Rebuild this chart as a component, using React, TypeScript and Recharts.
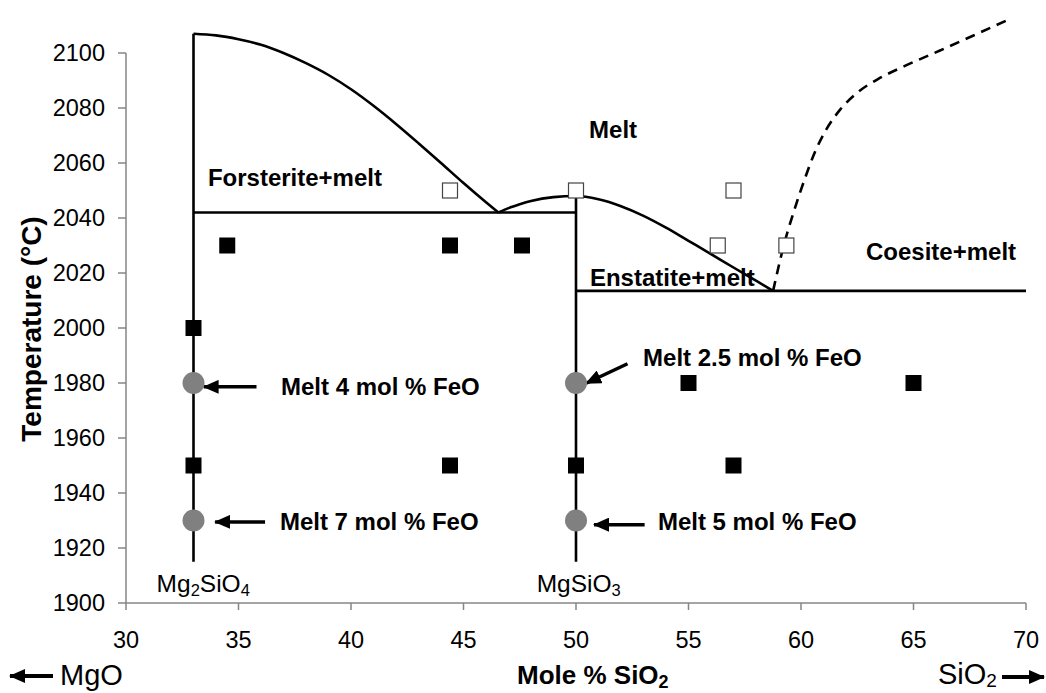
import React from 'react';
import {
  ComposedChart,
  Line,
  Scatter,
  XAxis,
  YAxis,
  ReferenceLine,
  ReferenceDot,
} from 'recharts';

// ---- axis ticks ----
const xTicks = [30, 35, 40, 45, 50, 55, 60, 65, 70];
const yTicks = [1900, 1920, 1940, 1960, 1980, 2000, 2020, 2040, 2060, 2080, 2100];

// ---- phase boundaries (mole % SiO2, temperature °C) ----
const forsteriteJoin = [
  { x: 33, y: 1915 },
  { x: 33, y: 2107 },
];
const forsteriteLiquidus = [
  { x: 33, y: 2107 },
  { x: 34, y: 2106.4 },
  { x: 35, y: 2105 },
  { x: 36, y: 2103 },
  { x: 37, y: 2100 },
  { x: 38, y: 2096.3 },
  { x: 39, y: 2092 },
  { x: 40, y: 2086.8 },
  { x: 41, y: 2080.8 },
  { x: 42, y: 2074.2 },
  { x: 43, y: 2067.2 },
  { x: 44, y: 2060 },
  { x: 45, y: 2052.7 },
  { x: 46, y: 2045.7 },
  { x: 46.55, y: 2042 },
];
const forsteriteSolidus = [
  { x: 33, y: 2042 },
  { x: 50, y: 2042 },
];
const enstatiteLiquidus = [
  { x: 46.55, y: 2042 },
  { x: 47, y: 2043.6 },
  { x: 47.5, y: 2045 },
  { x: 48, y: 2046.2 },
  { x: 49, y: 2047.6 },
  { x: 50, y: 2048 },
  { x: 51, y: 2046.8 },
  { x: 52, y: 2044.3 },
  { x: 53, y: 2040.8 },
  { x: 54, y: 2036.5 },
  { x: 55, y: 2031.7 },
  { x: 56, y: 2026.9 },
  { x: 57, y: 2022 },
  { x: 58, y: 2017.2 },
  { x: 58.76, y: 2013.5 },
];
const enstatiteJoin = [
  { x: 50, y: 1915 },
  { x: 50, y: 2048 },
];
const coesiteSolidus = [
  { x: 50, y: 2013.5 },
  { x: 70, y: 2013.5 },
];
const coesiteLiquidus = [
  { x: 58.76, y: 2013.5 },
  { x: 59.24, y: 2030.2 },
  { x: 59.73, y: 2043.6 },
  { x: 60.18, y: 2054.5 },
  { x: 60.62, y: 2064 },
  { x: 61.11, y: 2072 },
  { x: 61.73, y: 2079.3 },
  { x: 62.49, y: 2085.5 },
  { x: 63.42, y: 2090.5 },
  { x: 64.62, y: 2095.3 },
  { x: 66.18, y: 2100.9 },
  { x: 67.73, y: 2106.6 },
  { x: 69.29, y: 2112.4 },
];

// ---- experiments ----
const crystalRuns = [
  { x: 33, y: 2000 },
  { x: 33, y: 1950 },
  { x: 34.5, y: 2030 },
  { x: 44.4, y: 2030 },
  { x: 47.6, y: 2030 },
  { x: 44.4, y: 1950 },
  { x: 50, y: 1950 },
  { x: 55, y: 1980 },
  { x: 57, y: 1950 },
  { x: 65, y: 1980 },
];
const meltRuns = [
  { x: 44.4, y: 2050 },
  { x: 50, y: 2050 },
  { x: 57, y: 2050 },
  { x: 56.3, y: 2030 },
  { x: 59.35, y: 2030 },
];
const feoMeltRuns = [
  { x: 33, y: 1980 },
  { x: 33, y: 1930 },
  { x: 50, y: 1980 },
  { x: 50, y: 1930 },
];

// ---- annotation text and arrows ----
const fieldLabels = [
  { x: 33.64, y: 2051.6, text: 'Forsterite+melt' },
  { x: 50.58, y: 2069.1, text: 'Melt' },
  { x: 62.89, y: 2024.7, text: 'Coesite+melt' },
  { x: 50.62, y: 2015.3, text: 'Enstatite+melt' },
  { x: 52.98, y: 1986.2, text: 'Melt 2.5 mol % FeO' },
  { x: 36.89, y: 1975.6, text: 'Melt 4 mol % FeO' },
  { x: 36.84, y: 1926.5, text: 'Melt 7 mol % FeO' },
  { x: 53.64, y: 1926.5, text: 'Melt 5 mol % FeO' },
];
const arrows = [
  { x1: 35.8, y1: 1978.6, x2: 33.45, y2: 1978.6 },
  { x1: 36.18, y1: 1929.5, x2: 33.96, y2: 1929.5 },
  { x1: 52.29, y1: 1987, x2: 50.45, y2: 1979.9 },
  { x1: 53.05, y1: 1928.5, x2: 50.8, y2: 1928.5 },
];
const compounds = [
  { x: 31.36, y: 1904, base: 'Mg', sub1: '2', mid: 'SiO', sub2: '4' },
  { x: 48.25, y: 1904, base: 'Mg', sub1: '', mid: 'SiO', sub2: '3' },
];

const FONT = '"Liberation Sans", Arial, Helvetica, sans-serif';
const AXIS_GREY = '#868686';

const FilledSquare = (props: any) => (
  <rect x={props.cx - 8} y={props.cy - 8} width={16} height={16} fill="#000" />
);
const OpenSquare = (props: any) => (
  <rect
    x={props.cx - 7.5}
    y={props.cy - 7.5}
    width={15}
    height={15}
    fill="#fff"
    stroke="#444"
    strokeWidth={1.2}
  />
);
const GreyDot = (props: any) => <circle cx={props.cx} cy={props.cy} r={11} fill="#808080" />;

const boldText = (value: string) => (props: any) => {
  const vb = props.viewBox || {};
  return (
    <text
      x={vb.x}
      y={vb.y}
      fontFamily={FONT}
      fontWeight="bold"
      fontSize={24}
      fill="#000"
      textAnchor="start"
    >
      {value}
    </text>
  );
};

const compoundText = (c: (typeof compounds)[number]) => (props: any) => {
  const vb = props.viewBox || {};
  return (
    <text x={vb.x} y={vb.y} fontFamily={FONT} fontSize={24.5} fill="#000" textAnchor="start">
      <tspan>{c.base}</tspan>
      {c.sub1 ? (
        <tspan fontSize={16.5} dy={4}>
          {c.sub1}
        </tspan>
      ) : null}
      <tspan dy={c.sub1 ? -4 : 0}>{c.mid}</tspan>
      <tspan fontSize={16.5} dy={4}>
        {c.sub2}
      </tspan>
    </text>
  );
};

const XAxisLabel = (props: any) => {
  const vb = props.viewBox || { x: 126, y: 603, width: 900 };
  const left = vb.x;
  const top = vb.y;
  const right = vb.x + vb.width;
  return (
    <g>
      <text x={left + 391} y={top + 81} fontFamily={FONT} fontWeight="bold" fontSize={26} fill="#000">
        <tspan>Mole % SiO</tspan>
        <tspan fontSize={18} dy={4}>
          2
        </tspan>
      </text>
      <line
        x1={left - 73}
        y1={top + 73}
        x2={left - 116}
        y2={top + 73}
        stroke="#000"
        strokeWidth={4}
        markerEnd="url(#arrowHead)"
      />
      <text x={left - 66} y={top + 82} fontFamily={FONT} fontSize={29} fill="#000">
        MgO
      </text>
      <text x={right - 88} y={top + 81} fontFamily={FONT} fontSize={29} fill="#000">
        <tspan>SiO</tspan>
        <tspan fontSize={19} dy={3}>
          2
        </tspan>
      </text>
      <line
        x1={right - 24}
        y1={top + 74}
        x2={right + 18}
        y2={top + 74}
        stroke="#000"
        strokeWidth={4}
        markerEnd="url(#arrowHead)"
      />
    </g>
  );
};

const YAxisLabel = () => {
  const cx = 31;
  const cy = 329;
  return (
    <text
      x={cx}
      y={cy}
      transform={`rotate(-90 ${cx} ${cy})`}
      textAnchor="middle"
      dominantBaseline="central"
      fontFamily={FONT}
      fontWeight="bold"
      fontSize={28}
      fill="#000"
    >
      Temperature (°C)
    </text>
  );
};

export default function App() {
  return (
    <div style={{ position: 'absolute', left: 0, top: 0, width: 1046, height: 693, background: '#fff' }}>
      <svg width={0} height={0} style={{ position: 'absolute' }}>
        <defs>
          <marker
            id="arrowHead"
            markerUnits="userSpaceOnUse"
            markerWidth={16}
            markerHeight={14}
            refX={15}
            refY={7}
            orient="auto"
          >
            <path d="M0,0 L16,7 L0,14 Z" fill="#000" />
          </marker>
        </defs>
      </svg>
      <ComposedChart
        width={1046}
        height={693}
        margin={{ top: 9, right: 20, bottom: 0, left: 0 }}
      >
        <XAxis
          type="number"
          dataKey="x"
          domain={[30, 70]}
          ticks={xTicks}
          interval={0}
          height={90}
          tickSize={7}
          tickMargin={21}
          axisLine={{ stroke: AXIS_GREY, strokeWidth: 1.5 }}
          tickLine={{ stroke: AXIS_GREY, strokeWidth: 1.5 }}
          tick={{ fontSize: 23.5, fill: '#000', fontFamily: FONT }}
          label={{ content: XAxisLabel }}
        />
        <YAxis
          type="number"
          dataKey="y"
          domain={[1900, 2116]}
          ticks={yTicks}
          interval={0}
          width={126}
          tickSize={8}
          tickMargin={13}
          axisLine={false}
          tickLine={{ stroke: AXIS_GREY, strokeWidth: 1.5 }}
          tick={{ fontSize: 23.5, fill: '#000', fontFamily: FONT }}
          label={{ content: YAxisLabel }}
        />
        <ReferenceLine
          segment={[
            { x: 30, y: 1900 },
            { x: 30, y: 2100 },
          ]}
          stroke={AXIS_GREY}
          strokeWidth={1.5}
        />

        <Scatter data={crystalRuns} shape={FilledSquare} isAnimationActive={false} />
        <Scatter data={meltRuns} shape={OpenSquare} isAnimationActive={false} />
        <Scatter data={feoMeltRuns} shape={GreyDot} isAnimationActive={false} />

        <Line data={forsteriteJoin} dataKey="y" type="linear" stroke="#000" strokeWidth={2.6} dot={false} activeDot={false} isAnimationActive={false} />
        <Line data={forsteriteLiquidus} dataKey="y" type="monotone" stroke="#000" strokeWidth={2.6} dot={false} activeDot={false} isAnimationActive={false} />
        <Line data={forsteriteSolidus} dataKey="y" type="linear" stroke="#000" strokeWidth={2.6} dot={false} activeDot={false} isAnimationActive={false} />
        <Line data={enstatiteLiquidus} dataKey="y" type="monotone" stroke="#000" strokeWidth={2.6} dot={false} activeDot={false} isAnimationActive={false} />
        <Line data={enstatiteJoin} dataKey="y" type="linear" stroke="#000" strokeWidth={2.6} dot={false} activeDot={false} isAnimationActive={false} />
        <Line data={coesiteSolidus} dataKey="y" type="linear" stroke="#000" strokeWidth={2.6} dot={false} activeDot={false} isAnimationActive={false} />
        <Line data={coesiteLiquidus} dataKey="y" type="monotone" stroke="#000" strokeWidth={2.6} strokeDasharray="10 7" dot={false} activeDot={false} isAnimationActive={false} />

        {arrows.map((a, i) => (
          <ReferenceLine
            key={`arrow-${i}`}
            segment={[
              { x: a.x1, y: a.y1 },
              { x: a.x2, y: a.y2 },
            ]}
            stroke="#000"
            strokeWidth={3.5}
            markerEnd="url(#arrowHead)"
          />
        ))}

        {fieldLabels.map((l, i) => (
          <ReferenceDot
            key={`label-${i}`}
            x={l.x}
            y={l.y}
            r={0}
            fill="none"
            stroke="none"
            label={{ content: boldText(l.text) }}
          />
        ))}

        {compounds.map((c, i) => (
          <ReferenceDot
            key={`compound-${i}`}
            x={c.x}
            y={c.y}
            r={0}
            fill="none"
            stroke="none"
            label={{ content: compoundText(c) }}
          />
        ))}
      </ComposedChart>
    </div>
  );
}
